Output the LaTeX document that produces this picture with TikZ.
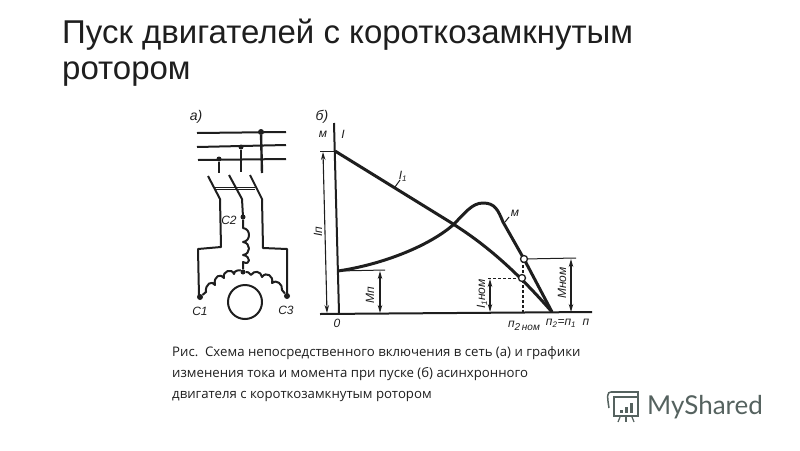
\documentclass[tikz,border=0pt]{standalone}
\usepackage{fontspec}
\setmainfont{Liberation Sans}
\newfontfamily\capfont{Open Sans}
\newfontfamily\logofont{Lato}
\usetikzlibrary{arrows.meta}
\definecolor{ink}{HTML}{1E1E1E}
\definecolor{logoc}{HTML}{55625F}
\tikzset{
  heavyl/.style={draw=ink,line width=2pt,line join=round},
  boldl/.style={draw=ink,line width=3pt,line join=round},
  thinl/.style={draw=ink,line width=1pt},
  diml/.style={draw=ink,line width=1.1pt,{Stealth[length=8pt,width=4.5pt]}-{Stealth[length=8pt,width=4.5pt]}},
  lab/.style={inner sep=0pt,text=ink,font=\itshape\fontsize{12}{12}\selectfont},
  biglab/.style={lab,font=\itshape\fontsize{14}{14}\selectfont},
  titletext/.style={inner sep=0pt,anchor=base west,text=ink,font=\fontsize{33}{36}\selectfont},
  captext/.style={inner sep=0pt,anchor=base west,text=ink,font=\capfont\fontsize{13.2}{15}\selectfont},
  ringn/.style={circle,draw=ink,fill=white,line width=1.3pt,inner sep=0pt,minimum size=7pt},
  dotn/.style={circle,fill=ink,inner sep=0pt,minimum size=6pt},
  logol/.style={draw=logoc,line width=1.5pt}
}
\begin{document}
\begin{tikzpicture}[x=1pt,y=-1pt]
\useasboundingbox (0,0) rectangle (800,450);
% Title
\node[titletext] (t1) at (62,43) {Пуск двигателей с короткозамкнутым};
\node[titletext] (t2) at (62,79) {ротором};
% Caption
\node[captext] (c1) at (172,356) {Рис.\ \ Схема непосредственного включения в сеть (а) и графики};
\node[captext] (c2) at (172,377) {изменения тока и момента при пуске (б) асинхронного};
\node[captext] (c3) at (172,398) {двигателя с короткозамкнутым ротором};
% Circuit
\node[biglab] (la) at (196,117) {а)};
\draw[heavyl] (197,133) -- (286,132);
\draw[heavyl] (197,147) -- (286,145);
\draw[heavyl] (198,160) -- (286,159);
\node[dotn] (d1) at (261,132) {};
\node[dotn,minimum size=5pt] (d2) at (241,147) {};
\node[dotn,minimum size=5pt] (d3) at (219,159) {};
\draw[boldl,line width=2.4pt] (d1) -- (262,173);
\draw[boldl,line width=2.4pt] (d2) -- (241,172);
\draw[boldl,line width=2.4pt] (d3) -- (219,173);
\draw[heavyl] (208,176) -- (220,199) -- (221,247) -- (198,249) -- (199,297);
\draw[heavyl] (229,175) -- (242,199) -- (243,217);
\draw[heavyl] (250,175) -- (262,199) -- (263,248) -- (287,249) -- (287,297);
\draw[thinl] (215,187) -- (255,187);
\draw[thinl] (215,189.5) -- (255,189.5);
\node[dotn,minimum size=5pt] (c2d) at (243,217) {};
\node[dotn] (c1d) at (200,297) {};
\node[dotn] (c3d) at (287,296) {};
\node[dotn,minimum size=5pt] (star) at (243,272) {};
% coils
\draw[heavyl] (c2d) -- (243,228)
  .. controls (251,229) and (251,241) .. (243,242)
  .. controls (251,243) and (251,254) .. (243,255)
  .. controls (251,256) and (251,266) .. (243,262) -- (star);
\draw[heavyl] (c1d) -- (206,292)
  .. controls (205,284) and (212,280) .. (215,285)
  .. controls (213,276) and (221,273) .. (224,278)
  .. controls (222,271) and (232,268) .. (234,274)
  .. controls (234,270) and (240,270) .. (star);
\draw[heavyl] (c3d) -- (282,290)
  .. controls (283,284) and (276,279) .. (272,283)
  .. controls (274,276) and (266,271) .. (262,277)
  .. controls (261,271) and (254,270) .. (251,275)
  .. controls (250,272) and (247,272) .. (star);
\draw[heavyl] (245,302) circle (17);
\node[lab] (lc2) at (229,220) {С2};
\node[lab] (lc1) at (200,311) {С1};
\node[lab] (lc3) at (286,310) {С3};
% Graph
\node[biglab] (lb) at (322,117) {б)};
\coordinate (top) at (334,123);
\coordinate (O) at (339,313);
\coordinate (Ms) at (338,271);
\coordinate (Is) at (335,151);
\coordinate (nn) at (552,312);
\draw[heavyl] (top) -- (O);
\draw[heavyl] (320,314) -- (592,312);
\draw[boldl] (Is) -- (450,222) .. controls (472,236) and (505,258) .. (nn);
\draw[boldl] (Ms) .. controls (385,264) and (430,245) .. (453,225)
  .. controls (465,213) and (472,203) .. (483,203)
  .. controls (495,203) and (498,210) .. (503,222) -- (524,259) -- (nn);
\draw[thinl,line width=1.5pt,densely dashed] (523,260) -- (523,312);
\node[ringn] (pm) at (524,259) {};
\node[ringn] (pi) at (522,278) {};
\draw[thinl] (320,151) -- (Is);
\draw[diml] (323,152) -- (327,313);
\draw[thinl] (Ms) -- (385,270);
\draw[diml] (380,271) -- (380,313);
\draw[thinl,densely dashed] (488,278) -- (pi);
\draw[diml] (490,279) -- (490,312);
\draw[thinl] (pm) -- (576,258);
\draw[diml] (571,259) -- (571,312);
\draw[thinl] (395,187) -- (400,180);
\draw[thinl] (505,222) -- (509,217);
\node[lab] (lm) at (323,134) {м};
\node[lab] (li) at (343,134) {I};
\node[lab] (li1) at (403,176) {I\textsubscript{1}};
\node[lab] (lmm) at (515,213) {м};
\node[lab,rotate=90] (lip) at (318,232) {Iп};
\node[lab,rotate=90] (lmp) at (370,295) {Мп};
\node[lab,rotate=90] (lin) at (482,294) {I\textsubscript{1}ном};
\node[lab,rotate=90] (lmn) at (562,283) {Мном};
\node[lab] (l0) at (337,323) {0};
\node[lab] (ln2n) at (524,326) {п\raisebox{-3pt}{\fontsize{10}{10}\selectfont 2\,ном}};
\node[lab] (ln2) at (561,323) {п\textsubscript{2}=п\textsubscript{1}};
\node[lab] (ln) at (586,322) {п};
% Logo
\draw[logol] (611,392) -- (638,392) -- (638,397) -- (613,397);
\draw[logol] (611,392) .. controls (607,392) and (607,396) .. (609,408);
\draw[logol] (614,397) -- (614,416) -- (638,416) -- (638,397);
\fill[logoc] (620,410) rectangle (623,413);
\fill[logoc] (625,407) rectangle (628,413);
\fill[logoc] (630,403) rectangle (633,413);
\draw[logol,line width=1.2pt] (620,417) -- (618,422);
\draw[logol,line width=1.2pt] (626,417) -- (626,422);
\draw[logol,line width=1.2pt] (632,417) -- (634,422);
\node[inner sep=0pt,anchor=base west,text=logoc,font=\logofont\fontsize{26}{28}\selectfont] (brand) at (647,414) {MyShared};
\end{tikzpicture}
\end{document}
